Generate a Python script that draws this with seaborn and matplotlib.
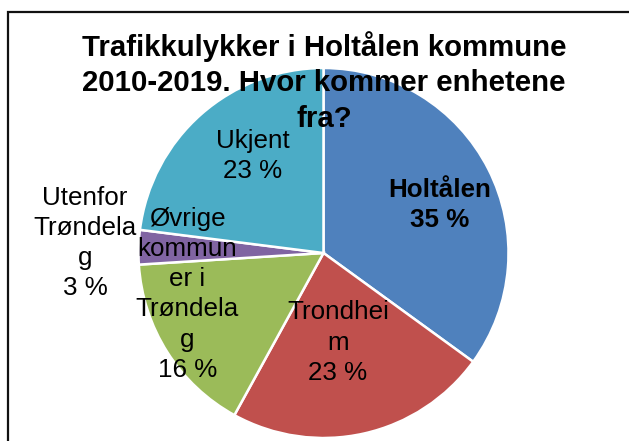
import numpy as np
import matplotlib
matplotlib.use("Agg")
import matplotlib.pyplot as plt
import matplotlib.patches as patches
import seaborn as sns

# === Data ===
categories = ["Holtålen", "Trondheim", "Øvrige kommuner i Trøndelag",
              "Utenfor Trøndelag", "Ukjent"]
shares = [35, 23, 16, 3, 23]
# label text as wrapped in the original
label_text = ["Holtålen", "Trondhei\nm", "Øvrige\nkommun\ner i\nTrøndela\ng",
              "Utenfor\nTrøndela\ng", "Ukjent"]
colors = ["#4F81BD", "#C0504D", "#9BBB59", "#8064A2", "#4BACC6"]
title = "Trafikkulykker i Holtålen kommune\n2010-2019. Hvor kommer enhetene\nfra?"

# label placement: (angle offset from wedge middle in deg, distance as fraction of radius)
label_pos = [(-4.5, 0.68), (-3.5, 0.49), (-15.5, 0.77), (-0.6, 1.29), (-5.5, 0.65)]

sns.set_theme(style="white")
plt.rcParams["font.family"] = ["Liberation Sans", "DejaVu Sans"]
plt.rcParams["text.color"] = "black"

W, H = 629, 441
fig = plt.figure(figsize=(W / 100, H / 100), dpi=100)
ax = fig.add_axes([0, 0, 1, 1])

cx, cy, r = 323.5, H - 253, 185
wedges, _ = ax.pie(shares, colors=sns.color_palette(colors), startangle=90,
                   counterclock=False, center=(cx, cy), radius=r,
                   wedgeprops=dict(edgecolor="white", linewidth=1.8))
ax.set_xlim(0, W)
ax.set_ylim(0, H)
ax.set_aspect("auto")
ax.axis("off")

for w, txt, val, (dang, dist) in zip(wedges, label_text, shares, label_pos):
    mid = np.deg2rad((w.theta1 + w.theta2) / 2 + dang)
    x = cx + dist * r * np.cos(mid)
    y = cy + dist * r * np.sin(mid)
    bold = txt == "Holtålen"
    ax.text(x, y, f"{txt}\n{val} %", ha="center", va="center", fontsize=18.7,
            linespacing=1.32, fontweight="bold" if bold else "normal", color="black")

fig.text(324 / W, 1 - 82 / H, title, ha="center", va="center", fontsize=21.2,
         fontweight="bold", linespacing=1.36, color="black")

# chart border (only top and left visible)
fig.patches.append(patches.Rectangle((7.5 / W, -0.2), 1.5, 1.2 - 11.5 / H,
                                     transform=fig.transFigure, fill=False,
                                     edgecolor="#111111", linewidth=1.6))

plt.savefig("out.png", dpi=100)
